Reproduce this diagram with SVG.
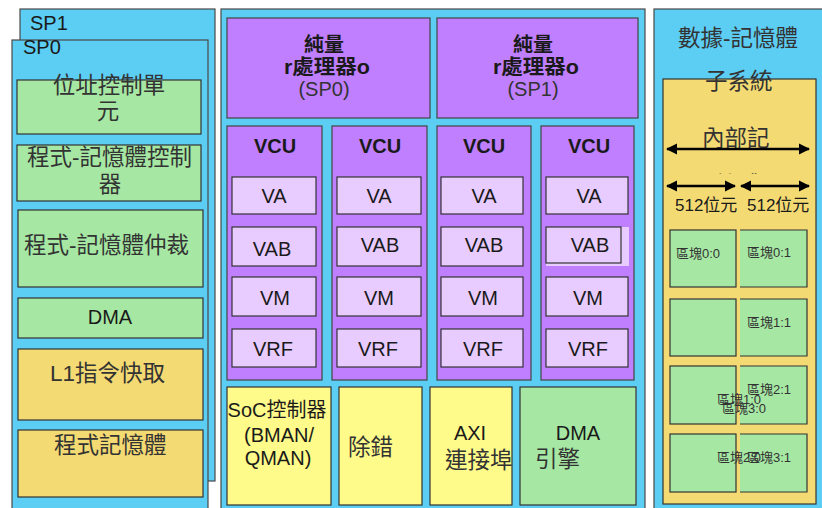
<svg xmlns="http://www.w3.org/2000/svg" width="822" height="508" viewBox="0 0 822 508">
<defs>
<style>
text{font-family:"Liberation Sans","Noto Sans CJK TC",sans-serif;fill:#1a1a1a}
.blue{fill:#5CCDF3;stroke:#4a4a4a;stroke-width:1.2}
.green{fill:#A6E8A3;stroke:#333;stroke-width:1.2}
.gold{fill:#F4DA72;stroke:#333;stroke-width:1.2}
.yel{fill:#FFFB8A;stroke:#333;stroke-width:1.2}
.pur{fill:#C07FFF;stroke:#444;stroke-width:1.2}
.lp{fill:#E9CCFF;stroke:#333;stroke-width:1.2}
.f20{font-size:20px}
.f21{font-size:22.5px;fill:#333}
.b{font-weight:bold}
.c{text-anchor:middle}
.tile{font-size:13px;fill:#333}
.arr{stroke:#000;stroke-width:2.5;fill:none;marker-start:url(#ah);marker-end:url(#ah)}
</style>
<marker id="ah" viewBox="0 0 10 10" refX="9" refY="5" markerWidth="4.5" markerHeight="4.5" orient="auto-start-reverse"><path d="M0,0 L10,5 L0,10 z" fill="#000"/></marker>
<clipPath id="cl"><rect x="660" y="150" width="150" height="24"/></clipPath>
</defs>

<g id="sp1">
<rect class="blue" x="20" y="9" width="195" height="472"/>
<text class="f20" x="30" y="30">SP1</text>
</g>
<g id="sp0">
<rect class="blue" x="12" y="40" width="196" height="475"/>
<text class="f20" x="23" y="54">SP0</text>
</g>
<g id="agu">
<rect class="green" x="17" y="80" width="184" height="54"/>
<text class="f21 c" x="109" y="93">位址控制單</text>
<text class="f21 c" x="108" y="119">元</text>
</g>
<g id="pmc">
<rect class="green" x="17" y="145" width="184" height="56"/>
<text class="f21" x="27" y="165">程式-記憶體控制</text>
<text class="f21 c" x="110" y="192">器</text>
</g>
<g id="pma">
<rect class="green" x="18" y="210" width="185" height="77"/>
<text class="f21" x="24" y="253">程式-記憶體仲裁</text>
</g>
<g id="dma0">
<rect class="green" x="18" y="298" width="185" height="40"/>
<text class="f20 c" x="110" y="324">DMA</text>
</g>
<g id="l1">
<rect class="gold" x="18" y="349" width="185" height="71"/>
<text class="f21" x="50" y="381">L1指令快取</text>
</g>
<g id="pm">
<rect class="gold" x="18" y="430" width="185" height="67"/>
<text class="f21" x="54" y="453">程式記憶體</text>
</g>

<g id="core">
<rect class="blue" x="221" y="9" width="424" height="506"/>
</g>
<g id="sp0box">
<rect class="pur" x="227" y="18" width="203" height="100"/>
<text class="f20 b c" x="324" y="52">純量</text>
<text class="f20 b c" x="327" y="74" textLength="86" lengthAdjust="spacingAndGlyphs">r處理器o</text>
<text class="f20 c" x="324" y="96" style="fill:#333">(SP0)</text>
</g>
<g id="sp1box">
<rect class="pur" x="437" y="18" width="201" height="100"/>
<text class="f20 b c" x="533" y="52">純量</text>
<text class="f20 b c" x="536" y="74" textLength="86" lengthAdjust="spacingAndGlyphs">r處理器o</text>
<text class="f20 c" x="533" y="96" style="fill:#333">(SP1)</text>
</g>

<g id="vcu1">
<rect class="pur" x="227" y="126" width="95" height="254"/>
<text class="f20 b c" x="275" y="153">VCU</text>
<rect class="lp" x="232" y="177" width="84" height="37"/><text class="f20 c" x="274" y="203">VA</text>
<rect class="lp" x="232" y="227" width="84" height="39"/><text class="f20 c" x="272" y="256">VAB</text>
<rect class="lp" x="232" y="277" width="84" height="39"/><text class="f20 c" x="275" y="305">VM</text>
<rect class="lp" x="232" y="329" width="84" height="38"/><text class="f20 c" x="273" y="356">VRF</text>
</g>
<g id="vcu2">
<rect class="pur" x="332" y="126" width="95" height="254"/>
<text class="f20 b c" x="380" y="153">VCU</text>
<rect class="lp" x="337" y="177" width="84" height="37"/><text class="f20 c" x="379" y="203">VA</text>
<rect class="lp" x="337" y="227" width="84" height="39"/><text class="f20 c" x="380" y="252">VAB</text>
<rect class="lp" x="337" y="277" width="84" height="39"/><text class="f20 c" x="379" y="305">VM</text>
<rect class="lp" x="337" y="329" width="84" height="38"/><text class="f20 c" x="378" y="356">VRF</text>
</g>
<g id="vcu3">
<rect class="pur" x="437" y="126" width="94" height="254"/>
<text class="f20 b c" x="484" y="153">VCU</text>
<rect class="lp" x="441" y="177" width="82" height="37"/><text class="f20 c" x="484" y="203">VA</text>
<rect class="lp" x="441" y="227" width="82" height="39"/><text class="f20 c" x="484" y="252">VAB</text>
<rect class="lp" x="441" y="277" width="82" height="39"/><text class="f20 c" x="483" y="305">VM</text>
<rect class="lp" x="441" y="329" width="82" height="38"/><text class="f20 c" x="483" y="356">VRF</text>
</g>
<g id="vcu4">
<rect class="pur" x="541" y="126" width="93" height="254"/>
<text class="f20 b c" x="589" y="153">VCU</text>
<rect class="lp" x="546" y="177" width="82" height="37"/><text class="f20 c" x="589" y="203">VA</text>
<rect x="546" y="227" width="83" height="39" fill="#E9CCFF"/>
<rect x="546" y="227" width="75" height="36" fill="none" stroke="#333" stroke-width="1.2"/><text class="f20 c" x="590" y="252">VAB</text>
<rect class="lp" x="546" y="277" width="82" height="39"/><text class="f20 c" x="588" y="305">VM</text>
<rect class="lp" x="546" y="329" width="82" height="38"/><text class="f20 c" x="588" y="356">VRF</text>
</g>

<g id="soc">
<rect class="yel" x="227" y="387" width="104" height="118"/>
<text class="f20 c" x="277" y="417">SoC控制器</text>
<text class="f20 c" x="279" y="442">(BMAN/</text>
<text class="f20 c" x="278" y="465">QMAN)</text>
</g>
<g id="debug">
<rect class="yel" x="339" y="387" width="83" height="118"/>
<text class="f21" x="348" y="455">除錯</text>
</g>
<g id="axi">
<rect class="yel" x="430" y="387" width="82" height="118"/>
<text class="f20 c" x="470" y="440">AXI</text>
<text class="f21" x="445" y="468">連接埠</text>
</g>
<g id="dmaeng">
<rect class="green" x="520" y="387" width="116" height="118"/>
<text class="f20 c" x="578" y="440">DMA</text>
<text class="f21" x="535" y="467">引擎</text>
</g>

<g id="dmem">
<rect class="blue" x="654" y="9" width="180" height="506"/>
<text class="f21" x="678" y="46">數據-記憶體</text>
</g>
<g id="internal">
<rect class="gold" x="663" y="79" width="153" height="425"/>
<text class="f21" x="705" y="89">子系統</text>
<text class="f21" x="702" y="146">內部記</text>
<text class="f21" x="716" y="193" clip-path="url(#cl)">憶體</text>
</g>
<g id="connectors">
<line class="arr" x1="667" y1="149" x2="809" y2="149"/>
<line class="arr" x1="667" y1="186" x2="735" y2="186"/>
<line class="arr" x1="741" y1="186" x2="809" y2="186"/>
</g>
<g id="bits">
<text x="675" y="211" style="font-size:17px">512位元</text>
<text x="747" y="211" style="font-size:17px">512位元</text>
</g>
<g id="tile00"><rect class="green" x="670" y="230" width="66" height="57"/><text class="tile" x="676" y="258">區塊0:0</text></g>
<g id="tile01"><rect x="740" y="230" width="67" height="57" fill="#A6E8A3"/><path d="M740,230 H807 V287 H740" fill="none" stroke="#333" stroke-width="1.2"/><text class="tile" x="747" y="257">區塊0:1</text></g>
<g id="tile10"><rect class="green" x="670" y="299" width="66" height="57"/></g>
<g id="tile11"><rect x="740" y="299" width="67" height="57" fill="#A6E8A3"/><path d="M740,299 H807 V356 H740" fill="none" stroke="#333" stroke-width="1.2"/><text class="tile" x="747" y="327">區塊1:1</text></g>
<g id="tile20"><rect class="green" x="670" y="366" width="66" height="58"/></g>
<g id="tile21"><rect x="740" y="366" width="67" height="58" fill="#A6E8A3"/><path d="M740,366 H807 V424 H740" fill="none" stroke="#333" stroke-width="1.2"/><text class="tile" x="747" y="394">區塊2:1</text></g>
<g id="tile30"><rect class="green" x="670" y="434" width="66" height="58"/></g>
<g id="tile31"><rect x="740" y="434" width="67" height="58" fill="#A6E8A3"/><path d="M740,434 H807 V492 H740" fill="none" stroke="#333" stroke-width="1.2"/></g>
<g id="tilelabels">
<text class="tile" x="717" y="404">區塊1:0</text>
<text class="tile" x="722" y="413">區塊3:0</text>
<text class="tile" x="717" y="462">區塊2:0</text>
<text class="tile" x="747" y="462">區塊3:1</text>
</g>
</svg>
